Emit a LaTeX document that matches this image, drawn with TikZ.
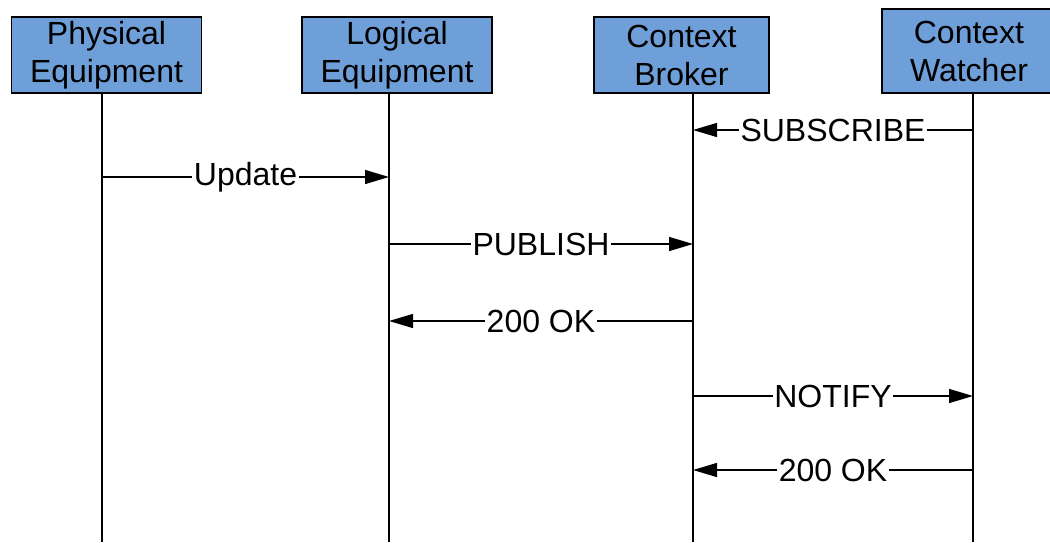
\documentclass[tikz,border=0pt]{standalone}
\usepackage{fontspec}
\setmainfont{Liberation Sans}
\usetikzlibrary{arrows.meta}
\definecolor{actorfill}{RGB}{111,159,217}
\tikzset{
  actor/.style={draw=black, line width=1.8pt, fill=actorfill, inner sep=0pt,
    align=center, font=\fontsize{32}{38}\selectfont},
  lifeline/.style={line width=1.6pt},
  msg/.style={line width=1.4pt, -{Triangle[length=24pt,width=14pt]}},
  lbl/.style={fill=white, inner sep=1.5pt, font=\fontsize{32}{38}\selectfont}
}
\begin{document}
\begin{tikzpicture}[x=1pt, y=1pt]
\useasboundingbox (0,0) rectangle (1050,-542);
\clip (0,0) rectangle (1050,-542);

% participants
\node[actor, minimum width=190pt, minimum height=76pt] (pe) at (106.5,-55) {Physical\\Equipment};
\node[actor, minimum width=190pt, minimum height=76pt] (le) at (397,-55) {Logical\\Equipment};
\node[actor, minimum width=175pt, minimum height=76pt] (cb) at (681.5,-55) {Context\\Broker};
\node[actor, minimum width=174pt, minimum height=84pt] (cw) at (969,-51) {Context\\Watcher};

% lifeline positions and ends
\coordinate (xp) at (102,0);
\coordinate (xl) at (389,0);
\coordinate (xb) at (693,0);
\coordinate (xw) at (973,0);
\coordinate (bottom) at (0,-542);

\draw[lifeline] (pe.south -| xp) -- (bottom -| xp);
\draw[lifeline] (le.south -| xl) -- (bottom -| xl);
\draw[lifeline] (cb.south -| xb) -- (bottom -| xb);
\draw[lifeline] (cw.south -| xw) -- (bottom -| xw);

% message rows
\coordinate (r1) at (0,-130);
\coordinate (r2) at (0,-177);
\coordinate (r3) at (0,-244);
\coordinate (r4) at (0,-321);
\coordinate (r5) at (0,-396);
\coordinate (r6) at (0,-470);

\draw[msg] (xw |- r1) -- node[lbl] {SUBSCRIBE} (xb |- r1);
\draw[msg] (xp |- r2) -- node[lbl] {Update} (xl |- r2);
\draw[msg] (xl |- r3) -- node[lbl] {PUBLISH} (xb |- r3);
\draw[msg] (xb |- r4) -- node[lbl] {200 OK} (xl |- r4);
\draw[msg] (xb |- r5) -- node[lbl] {NOTIFY} (xw |- r5);
\draw[msg] (xw |- r6) -- node[lbl] {200 OK} (xb |- r6);
\end{tikzpicture}
\end{document}
